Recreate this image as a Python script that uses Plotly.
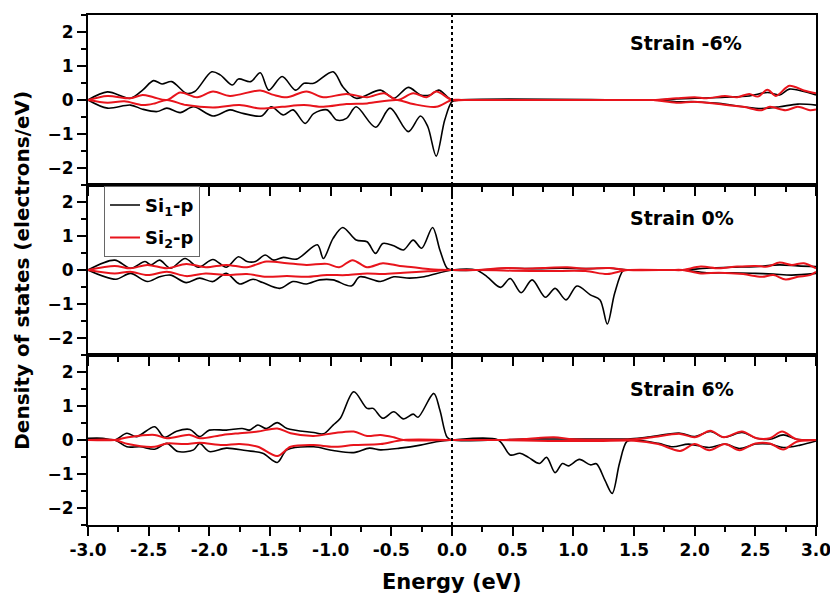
import plotly.graph_objects as go
from plotly.subplots import make_subplots

# ---------------- data (energy eV, DOS electrons/eV) ----------------
PANELS = ["Strain -6%", "Strain 0%", "Strain 6%"]
SERIES = ["Si<sub>1</sub>-p", "Si<sub>2</sub>-p"]
FERMI = 0.0

si1_up_m6 = [(-3.0,0),(-2.84,0.24),(-2.65,0.05),(-2.55,0.29),(-2.46,0.57),(-2.39,0.47),(-2.31,0.54),(-2.19,0.2),(-2.12,0.25),(-1.98,0.83),(-1.91,0.74),(-1.81,0.44),(-1.76,0.62),(-1.66,0.54),(-1.58,0.80),(-1.51,0.29),(-1.40,0.69),(-1.29,0.29),(-1.22,0.49),(-1.14,0.49),(-0.98,0.83),(-0.90,0.39),(-0.79,0.05),(-0.59,0.29),(-0.48,0.05),(-0.36,0.37),(-0.26,0.15),(-0.18,0.15),(-0.11,0.29),(0.0,0),(0.1,0),(1.55,0),(1.66,0),(1.85,0.03),(2.0,0.05),(2.25,0.08),(2.45,0.12),(2.6,0.22),(2.7,0.15),(2.78,0.32),(2.9,0.25),(3.0,0.15)]
si1_dn_m6 = [(-3.0,0),(-2.84,-0.24),(-2.65,-0.15),(-2.55,-0.27),(-2.43,-0.34),(-2.35,-0.24),(-2.24,-0.37),(-2.13,-0.20),(-1.97,-0.47),(-1.83,-0.29),(-1.75,-0.37),(-1.57,-0.47),(-1.49,-0.20),(-1.39,-0.44),(-1.31,-0.29),(-1.21,-0.69),(-1.14,-0.40),(-1.03,-0.29),(-0.95,-0.59),(-0.87,-0.54),(-0.79,-0.20),(-0.63,-0.80),(-0.51,-0.24),(-0.36,-0.93),(-0.26,-0.47),(-0.20,-0.78),(-0.13,-1.65),(-0.06,-0.59),(0.0,-0.05),(0.05,0),(1.55,0),(1.66,0),(1.85,-0.05),(2.0,-0.05),(2.2,-0.1),(2.4,-0.2),(2.55,-0.25),(2.7,-0.2),(2.85,-0.12),(3.0,-0.15)]
si2_up_m6 = [(-3.0,0),(-2.84,0.12),(-2.65,0.05),(-2.55,0.15),(-2.46,0.08),(-2.35,0.0),(-2.24,0.22),(-2.10,0.08),(-1.97,0.25),(-1.83,0.12),(-1.58,0.28),(-1.47,0.15),(-1.36,0.08),(-1.20,0.25),(-1.06,0.08),(-0.87,0.18),(-0.70,0.08),(-0.56,0.2),(-0.45,0.0),(-0.32,0.2),(-0.21,0.08),(-0.13,0.25),(0.0,0),(0.1,0),(1.55,0),(1.66,0),(1.85,0.05),(2.0,0.08),(2.1,0.05),(2.25,0.12),(2.35,0.08),(2.45,0.18),(2.52,0.1),(2.6,0.3),(2.67,0.12),(2.78,0.42),(2.9,0.28),(3.0,0.2)]
si2_dn_m6 = [(-3.0,0),(-2.84,-0.08),(-2.7,-0.04),(-2.55,-0.15),(-2.45,-0.1),(-2.35,0),(-2.19,-0.15),(-1.97,-0.22),(-1.75,-0.15),(-1.58,-0.25),(-1.40,-0.2),(-1.22,-0.15),(-1.06,-0.2),(-0.87,-0.12),(-0.70,-0.1),(-0.45,0),(-0.32,-0.12),(-0.13,-0.2),(0.0,0),(0.1,0),(1.55,0),(1.66,0),(1.85,-0.08),(2.0,-0.05),(2.2,-0.12),(2.4,-0.2),(2.55,-0.3),(2.62,-0.2),(2.75,-0.3),(2.85,-0.2),(2.95,-0.3),(3.0,-0.28)]

si1_up_0 = [(-3.0,0),(-2.78,0.29),(-2.65,0.05),(-2.53,0.25),(-2.48,0.15),(-2.41,0.29),(-2.32,0.05),(-2.20,0.34),(-2.09,0.08),(-1.97,0.31),(-1.86,0.08),(-1.76,0.39),(-1.69,0.25),(-1.62,0.25),(-1.54,0.44),(-1.47,0.29),(-1.39,0.37),(-1.28,0.32),(-1.11,0.74),(-1.06,0.34),(-0.98,0.93),(-0.90,1.25),(-0.79,0.88),(-0.70,0.83),(-0.63,0.49),(-0.57,0.78),(-0.48,0.71),(-0.40,0.59),(-0.32,0.88),(-0.25,0.64),(-0.16,1.25),(-0.10,0.59),(-0.04,0.05),(0.0,0),(0.2,0),(0.45,0.05),(0.7,0.04),(0.9,0.05),(1.1,0.04),(1.3,0.05),(1.45,0),(1.8,0),(1.9,0),(2.1,0.05),(2.3,0.08),(2.5,0.1),(2.7,0.15),(2.85,0.12),(3.0,0.1)]
si1_dn_0 = [(-3.0,0),(-2.77,-0.27),(-2.65,-0.10),(-2.51,-0.34),(-2.41,-0.2),(-2.32,-0.15),(-2.19,-0.37),(-2.08,-0.24),(-1.97,-0.34),(-1.86,-0.10),(-1.75,-0.41),(-1.64,-0.27),(-1.56,-0.37),(-1.42,-0.54),(-1.31,-0.34),(-1.20,-0.41),(-1.09,-0.29),(-0.98,-0.29),(-0.83,-0.47),(-0.76,-0.2),(-0.59,-0.34),(-0.48,-0.2),(-0.35,-0.24),(-0.23,-0.2),(0.0,0),(0.20,0),(0.29,-0.20),(0.40,-0.51),(0.48,-0.25),(0.57,-0.67),(0.66,-0.29),(0.77,-0.80),(0.85,-0.54),(0.94,-0.88),(1.03,-0.47),(1.14,-0.73),(1.22,-0.88),(1.28,-1.59),(1.34,-0.69),(1.41,-0.02),(1.45,0),(1.8,0),(1.9,0),(2.1,-0.08),(2.3,-0.08),(2.5,-0.1),(2.65,-0.12),(2.8,-0.15),(3.0,-0.1)]
si2_up_0 = [(-3.0,0),(-2.78,0.12),(-2.65,0.05),(-2.51,0.15),(-2.35,0.05),(-2.19,0.18),(-2.03,0.08),(-1.86,0.15),(-1.69,0.08),(-1.53,0.25),(-1.36,0.2),(-1.20,0.15),(-1.03,0.18),(-0.93,0.08),(-0.82,0.29),(-0.70,0.08),(-0.57,0.2),(-0.43,0.12),(-0.32,0.08),(-0.18,0.02),(0.0,0),(0.2,0),(0.45,0.06),(0.6,0.04),(0.75,0.06),(0.95,0.08),(1.1,0.04),(1.3,0.06),(1.45,0),(1.8,0),(1.9,0),(2.05,0.1),(2.2,0.05),(2.35,0.1),(2.5,0.12),(2.6,0.1),(2.7,0.22),(2.8,0.15),(2.9,0.2),(3.0,0.05)]
si2_dn_0 = [(-3.0,0),(-2.78,-0.1),(-2.65,-0.05),(-2.51,-0.15),(-2.35,-0.05),(-2.19,-0.18),(-2.03,-0.1),(-1.86,-0.15),(-1.69,-0.12),(-1.53,-0.2),(-1.36,-0.18),(-1.20,-0.2),(-1.03,-0.15),(-0.87,-0.15),(-0.70,-0.1),(-0.57,-0.12),(-0.40,-0.08),(-0.2,-0.04),(0.0,0),(0.2,0),(0.5,-0.02),(0.8,-0.03),(1.1,-0.03),(1.28,-0.12),(1.4,-0.03),(1.45,0),(1.8,0),(1.9,0),(2.05,-0.1),(2.2,-0.08),(2.4,-0.12),(2.55,-0.2),(2.65,-0.15),(2.75,-0.28),(2.85,-0.2),(2.95,-0.15),(3.0,-0.05)]

si1_up_6 = [(-3.0,0.05),(-2.88,0.05),(-2.78,0),(-2.68,0.2),(-2.60,0.1),(-2.45,0.39),(-2.37,0.08),(-2.27,0.26),(-2.16,0.31),(-2.08,0.1),(-2.0,0.29),(-1.86,0.29),(-1.73,0.34),(-1.67,0.29),(-1.60,0.44),(-1.53,0.34),(-1.44,0.51),(-1.36,0.34),(-1.14,0.22),(-1.06,0.18),(-0.98,0.44),(-0.92,0.64),(-0.81,1.42),(-0.70,0.93),(-0.65,0.93),(-0.57,0.64),(-0.48,0.83),(-0.40,0.62),(-0.32,0.76),(-0.28,0.67),(-0.15,1.37),(-0.10,0.88),(-0.04,0.08),(0.0,0),(0.38,0),(0.6,0.03),(0.9,0.03),(1.2,0.03),(1.45,0.03),(1.60,0.08),(1.88,0.2),(2.0,0.1),(2.13,0.25),(2.24,0.08),(2.39,0.22),(2.51,0.05),(2.62,0.02),(2.73,0.15),(2.84,0.02),(3.0,0)]
si1_dn_6 = [(-3.0,0),(-2.78,0),(-2.68,-0.2),(-2.57,-0.2),(-2.45,-0.27),(-2.35,-0.1),(-2.26,-0.34),(-2.13,-0.29),(-2.08,-0.1),(-2.0,-0.34),(-1.86,-0.24),(-1.70,-0.31),(-1.56,-0.39),(-1.44,-0.66),(-1.36,-0.29),(-1.14,-0.2),(-0.98,-0.31),(-0.81,-0.37),(-0.68,-0.24),(-0.59,-0.29),(-0.43,-0.24),(-0.26,-0.15),(-0.13,-0.05),(0.0,0),(0.38,0),(0.48,-0.44),(0.56,-0.39),(0.63,-0.51),(0.72,-0.69),(0.78,-0.51),(0.85,-0.96),(0.91,-0.69),(0.96,-0.76),(1.05,-0.57),(1.14,-0.73),(1.19,-0.70),(1.26,-1.18),(1.32,-1.57),(1.38,-0.69),(1.44,-0.05),(1.5,0),(1.7,-0.1),(1.82,-0.2),(1.95,-0.12),(2.12,-0.22),(2.25,-0.12),(2.37,-0.25),(2.5,-0.12),(2.62,-0.12),(2.73,-0.22),(2.87,-0.15),(3.0,-0.03)]
si2_up_6 = [(-3.0,0),(-2.78,0),(-2.67,0.08),(-2.45,0.15),(-2.35,0.05),(-2.16,0.15),(-2.08,0.05),(-1.89,0.15),(-1.75,0.2),(-1.60,0.25),(-1.44,0.34),(-1.33,0.2),(-1.14,0.12),(-0.98,0.2),(-0.81,0.25),(-0.70,0.12),(-0.59,0.15),(-0.48,0.08),(-0.40,0),(0.0,0),(0.38,0),(0.6,0.03),(0.84,0.08),(1.0,0.02),(1.5,0.02),(1.65,0.08),(1.88,0.18),(2.0,0.08),(2.13,0.27),(2.24,0.08),(2.39,0.25),(2.51,0.05),(2.62,0.05),(2.72,0.25),(2.84,0.02),(3.0,0)]
si2_dn_6 = [(-3.0,0),(-2.78,0),(-2.67,-0.12),(-2.45,-0.2),(-2.35,-0.1),(-2.2,-0.12),(-2.08,-0.08),(-1.89,-0.15),(-1.75,-0.12),(-1.60,-0.2),(-1.44,-0.47),(-1.33,-0.2),(-1.14,-0.15),(-0.98,-0.2),(-0.81,-0.15),(-0.59,-0.12),(-0.40,0),(0.0,0),(0.38,0),(0.8,-0.03),(1.2,-0.03),(1.5,-0.02),(1.7,-0.12),(1.88,-0.32),(2.0,-0.12),(2.12,-0.3),(2.25,-0.12),(2.37,-0.3),(2.5,-0.1),(2.62,-0.1),(2.73,-0.28),(2.84,-0.05),(3.0,0)]

X_TICKS = [-3.0, -2.5, -2.0, -1.5, -1.0, -0.5, 0.0, 0.5, 1.0, 1.5, 2.0, 2.5, 3.0]
Y_TICKS = [-2, -1, 0, 1, 2]

PANEL_DATA = [
    (si1_up_m6, si1_dn_m6, si2_up_m6, si2_dn_m6),
    (si1_up_0, si1_dn_0, si2_up_0, si2_dn_0),
    (si1_up_6, si1_dn_6, si2_up_6, si2_dn_6),
]

# ---------------- styling ----------------
FONT = "DejaVu Sans"
BLACK = "#000000"
RED = "#e8141c"

fig = make_subplots(rows=3, cols=1, shared_xaxes=True, vertical_spacing=0)

for i, (s1u, s1d, s2u, s2d) in enumerate(PANEL_DATA):
    row = i + 1
    for j, (pts, color, width, name) in enumerate([
        (s1u, BLACK, 1.6, SERIES[0]), (s1d, BLACK, 1.6, SERIES[0]),
        (s2u, RED, 2.0, SERIES[1]), (s2d, RED, 2.0, SERIES[1])]):
        fig.add_trace(go.Scatter(
            x=[p[0] for p in pts], y=[p[1] for p in pts], mode="lines",
            line=dict(color=color, width=width, shape="spline", smoothing=0.9),
            name=name, legendgroup=name,
            showlegend=(row == 1 and j in (0, 2)),
        ), row=row, col=1)
    fig.add_vline(x=FERMI, line=dict(color=BLACK, width=2, dash="dot"), row=row, col=1)

axis_common = dict(showline=True, linewidth=2, linecolor=BLACK, mirror=True,
                   showgrid=False, zeroline=False, ticks="outside",
                   tickwidth=1.5, tickcolor=BLACK, ticklen=9,
                   ticklabeloverflow="allow", automargin=False,
                   tickfont=dict(family=FONT, size=17, color=BLACK, weight="bold"))

for r in range(1, 4):
    fig.update_xaxes(range=[-3, 3], tickvals=X_TICKS, ticktext=[f"{v:.1f}" for v in X_TICKS],
                     minor=dict(dtick=0.25, tick0=-3, ticks="outside", ticklen=5, tickwidth=1.5, tickcolor=BLACK),
                     showticklabels=(r == 3), row=r, col=1, **axis_common)
    fig.update_yaxes(range=[-2.5, 2.5], tickvals=Y_TICKS,
                     minor=dict(dtick=0.5, tick0=0, ticks="outside", ticklen=5, tickwidth=1.5, tickcolor=BLACK),
                     row=r, col=1, **axis_common)

ann_pos = [(0.821, 0.945), (0.816, 0.602), (0.816, 0.267)]
for label, (ax, ay) in zip(PANELS, ann_pos):
    fig.add_annotation(text=label, x=ax, y=ay, xref="paper", yref="paper",
                       showarrow=False, xanchor="center", yanchor="middle",
                       font=dict(family=FONT, size=19, color=BLACK, weight="bold"))

fig.add_annotation(text="Energy (eV)", x=0.5, y=-0.112, xref="paper", yref="paper",
                   showarrow=False, xanchor="center", yanchor="middle",
                   font=dict(family=FONT, size=21, color=BLACK, weight="bold"))
fig.add_annotation(text="Density of states (electrons/eV)", x=-0.091, y=0.5,
                   xref="paper", yref="paper", textangle=-90, showarrow=False,
                   xanchor="center", yanchor="middle",
                   font=dict(family=FONT, size=20, color=BLACK, weight="bold"))

fig.update_layout(
    width=830, height=597,
    margin=dict(l=88, r=14, t=15, b=72, autoexpand=False),
    plot_bgcolor="white", paper_bgcolor="white",
    legend=dict(x=0.022, y=0.665, xanchor="left", yanchor="top",
                bgcolor="white", bordercolor="#666666", borderwidth=1,
                font=dict(family=FONT, size=18, color=BLACK, weight="bold"),
                tracegroupgap=6),
)

fig.write_html("out.html")
